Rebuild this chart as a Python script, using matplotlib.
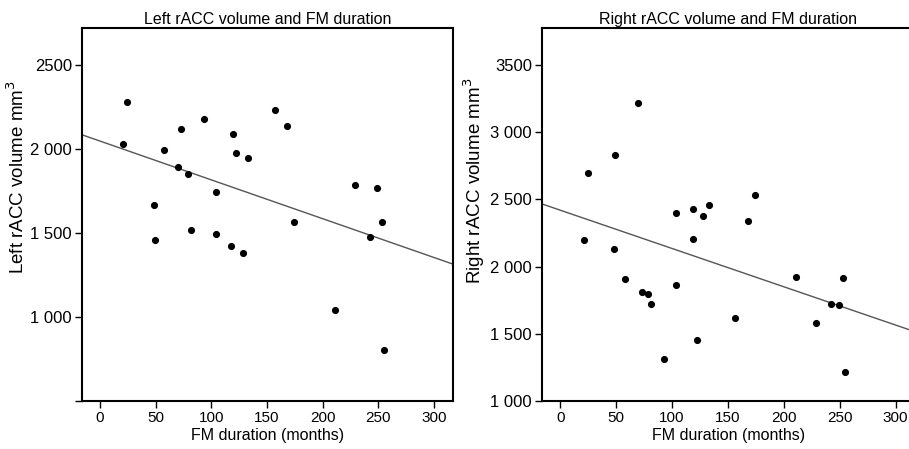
import matplotlib.pyplot as plt

plt.rcParams['font.family'] = ['Liberation Sans', 'DejaVu Sans']

# left panel data (months, mm3)
left_months = [21, 24, 48, 49, 57.5, 70, 73, 79, 81.5, 93, 104, 104, 119, 118,
               122.5, 128, 132.6, 157, 167.7, 174, 211, 229, 242.5, 249, 253.6, 255.5]
left_vol = [2032, 2282, 1667, 1460, 1992, 1893, 2121, 1849, 1520, 2179, 1742, 1494, 2089, 1425,
            1976, 1381, 1946, 2234, 2135, 1567, 1040, 1786, 1478, 1768, 1563, 806]
left_fit = (2047, -2.31)  # intercept, slope

# right panel data
right_months = [21.2, 24.5, 48, 49.5, 57.6, 70, 72.8, 78.7, 81.4, 93, 103.5, 103.8, 118.4, 118.7,
                122.6, 128, 132.7, 156.6, 167.6, 174, 210.6, 228.5, 242, 249, 253, 255]
right_vol = [2199, 2695, 2130, 2829, 1905, 3215, 1808, 1798, 1719, 1315, 2396, 1861, 2207, 2428,
             1457, 2376, 2456, 1616, 2336, 2533, 1925, 1582, 1719, 1711, 1918, 1213]
right_fit = (2420, -2.85)

x_ticks = [0, 50, 100, 150, 200, 250, 300]
left_yticks = [500, 1000, 1500, 2000, 2500]
left_ylabels = ["", "1 000", "1 500", "2 000", "2500"]
right_yticks = [1000, 1500, 2000, 2500, 3000, 3500]
right_ylabels = ["1 000", "1 500", "2 000", "2 500", "3 000", "3500"]

fig = plt.figure(figsize=(9.09, 4.49), dpi=100)
ax1 = fig.add_axes([0.0899, 0.1069, 0.4084, 0.8307])
ax2 = fig.add_axes([0.5959, 0.1069, 0.4103, 0.8307])

panels = [
    (ax1, left_months, left_vol, left_fit, left_yticks, left_ylabels, (500, 2720),
     "Left rACC volume and FM duration", "Left rACC volume mm$^3$", 0.60),
    (ax2, right_months, right_vol, right_fit, right_yticks, right_ylabels, (1000, 3775),
     "Right rACC volume and FM duration", "Right rACC volume mm$^3$", 0.59),
]

for ax, xs, ys, fit, yt, ylab, ylim, title, ylabel, ly in panels:
    ax.scatter(xs, ys, s=17, color='black', zorder=3)
    ax.axline((0, fit[0]), slope=fit[1], color='#555555', lw=1.0)
    ax.set_xlim(-16.5, 317)
    ax.set_ylim(*ylim)
    ax.set_xticks(x_ticks)
    ax.set_xticklabels([str(t) for t in x_ticks], fontsize=11)
    ax.set_yticks(yt)
    ax.set_yticklabels(ylab, fontsize=12)
    ax.tick_params(direction='out', length=5, width=1, pad=2)
    for sp in ax.spines.values():
        sp.set_linewidth(1.5)
    ax.set_title(title, fontsize=11.5, pad=3)
    ax.set_xlabel("FM duration (months)", fontsize=11.5, labelpad=2)
    ax.set_ylabel(ylabel, fontsize=13.5)
    ax.yaxis.set_label_coords(-0.146, ly)

fig.savefig("out.png", dpi=100)
